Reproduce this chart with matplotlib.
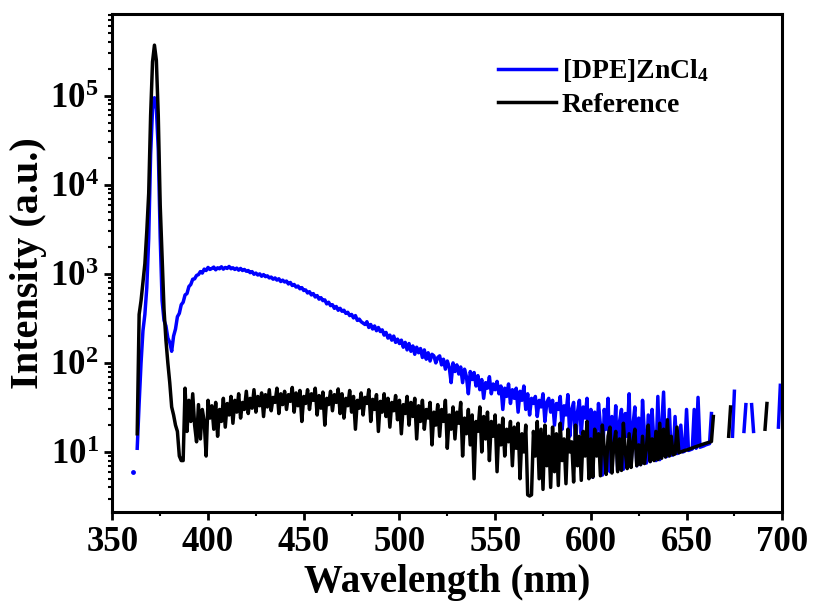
import numpy as np
import matplotlib
matplotlib.use('Agg')
import matplotlib.pyplot as plt
from matplotlib.ticker import FixedLocator, FuncFormatter, LogLocator, MultipleLocator

nan = np.nan

# wavelength grid, 1 nm steps
wavelength = np.arange(360, 701)

# [DPE]ZnCl4 emission (a.u.), nan = value not shown on the log axis
dpe = [
    nan, 6, nan, 11, 35, 100, 230, 350, 700, 2500,
    22000, 70000, 95000, 72000, 25000, 2600, 500, 300, 260, 190,
    170, 135, 200, 240, 330, 360, 450, 480, 580, 600,
    720, 760, 870, 880, 960, 980, 1060, 1020, 1130, 1090,
    1180, 1120, 1150, 1190, 1110, 1170, 1140, 1200, 1130, 1180,
    1150, 1210, 1140, 1170, 1120, 1160, 1100, 1150, 1090, 1120,
    1070, 1090, 1030, 1060, 990, 1020, 970, 1000, 940, 980,
    930, 950, 900, 920, 870, 900, 850, 880, 820, 850,
    810, 830, 770, 800, 740, 760, 710, 730, 680, 700,
    650, 660, 610, 630, 580, 600, 550, 570, 520, 540,
    500, 510, 460, 480, 440, 450, 410, 430, 390, 410,
    380, 390, 360, 370, 340, 350, 320, 340, 300, 310,
    290, 280, 270, 290, 250, 270, 240, 260, 230, 250,
    225, 235, 205, 220, 190, 205, 180, 200, 170, 185,
    165, 180, 150, 170, 140, 165, 135, 155, 125, 150,
    130, 145, 115, 140, 110, 130, 105, 125, 120, 100,
    115, 120, 95, 110, 85, 105, 90, 60, 100, 80,
    95, 75, 90, 60, 85, 70, 45, 80, 65, 78,
    55, 72, 50, 65, 40, 60, 52, 70, 45, 58,
    50, 62, 45, 55, 30, 52, 42, 58, 35, 50,
    40, 52, 28, 48, 38, 55, 30, 45, 26, 40,
    35, 42, 25, 38, 32, 45, 22, 36, 40, 28,
    38, 20, 35, 30, 42, 18, 33, 26, 44, 15,
    30, 36, 12, 28, 38, 16, 32, 24, 40, 10,
    30, 5.2, 28, 14, 35, 20, 5.5, 30, 18, 40,
    6, 25, 12, 33, 6.2, 22, 30, 6.4, 27, 15,
    45, 6.8, 20, 32, 7, 24, 7.2, 38, 16, 7.5,
    26, 7.8, 30, 12, 8, 42, 8.2, 20, 47, 8.8,
    9, 30, 9.2, 9.3, 25, 9.6, 9.8, 20, 10, 10.2,
    30, 10.4, 10.6, 10.8, 30, 11, 41, 11.3, 11.5, 11.7,
    12, 12.2, 12.4, 27, nan, nan, nan, nan, nan, nan,
    nan, nan, nan, nan, 15, 48, nan, nan, nan, nan,
    17, 34, nan, nan, 34, 17, nan, nan, nan, nan,
    nan, nan, nan, nan, nan, nan, nan, nan, 19, 56,
    nan,
]

# reference (excitation light) spectrum
reference = [
    nan, nan, nan, 16, 350, 500, 800, 1300, 3000, 8000,
    60000, 240000, 370000, 250000, 60000, 6000, 1500, 400, 180, 100,
    60, 32, 26, 20, 17, 9, 8, 8, 52, 17,
    38, 22, 45, 20, 13, 34, 14, 30, 22, 9,
    38, 24, 33, 18, 36, 15, 30, 22, 40, 19,
    35, 26, 42, 21, 38, 28, 45, 24, 36, 30,
    48, 27, 40, 31, 50, 28, 42, 33, 46, 25,
    44, 32, 50, 29, 41, 36, 52, 27, 45, 34,
    48, 30, 44, 37, 53, 28, 46, 33, 49, 22,
    42, 35, 50, 30, 45, 38, 52, 26, 43, 31,
    47, 20, 40, 34, 48, 29, 44, 36, 51, 27,
    45, 24, 40, 33, 49, 28, 42, 18, 38, 31,
    46, 26, 41, 35, 50, 22, 39, 30, 44, 17,
    37, 28, 45, 25, 40, 19, 36, 29, 43, 23,
    38, 16, 34, 27, 42, 20, 36, 25, 40, 14,
    33, 22, 38, 18, 30, 24, 36, 12, 28, 20,
    34, 15, 30, 22, 38, 11, 26, 18, 32, 14,
    28, 21, 36, 9, 24, 16, 30, 12, 26, 5,
    22, 17, 32, 10, 25, 14, 28, 8, 22, 15,
    26, 6, 20, 12, 24, 9, 18, 13, 22, 7,
    19, 11, 21, 5, 16, 10, 20, 3.3, 3.2, 3.3,
    17, 9, 22, 5, 18, 3.8, 20, 7, 15, 4,
    19, 6, 16, 4.2, 21, 8, 14, 4.4, 18, 10,
    13, 4.6, 20, 7, 15, 4.8, 17, 9, 22, 5,
    14, 5.2, 18, 9, 16, 5.4, 20, 11, 5.6, 15,
    19, 5.8, 12, 17, 6, 14, 6.2, 21, 10, 6.5,
    16, 6.7, 13, 18, 7, 12, 7.2, 15, 7.4, 11,
    20, 7.8, 14, 8, 17, 8.2, 21, 8.5, 18, 8.8,
    23, 9, 15, 9.3, 9.5, 19, 9.8, 10, 10.2, 10.4,
    10.5, 10.7, 10.9, 11.1, 11.3, 11.5, 11.7, 11.9, 12.1, 12.3,
    12.5, 12.7, 12.9, 13.1, 25, nan, nan, nan, nan, nan,
    nan, nan, 15, 32, nan, nan, nan, nan, nan, nan,
    nan, nan, nan, nan, nan, nan, nan, nan, nan, nan,
    nan, 18, 35, nan, nan, nan, nan, nan, nan, nan,
    nan,
]

labels = ['[DPE]ZnCl$_4$', 'Reference']
colors = ['#0000ff', '#000000']

plt.rcParams['font.family'] = 'Liberation Serif'
plt.rcParams['font.weight'] = 'bold'
plt.rcParams['mathtext.fontset'] = 'custom'
plt.rcParams['mathtext.rm'] = 'Liberation Serif:bold'
plt.rcParams['mathtext.it'] = 'Liberation Serif:bold'
plt.rcParams['mathtext.bf'] = 'Liberation Serif:bold'


def isolated(ys):
	# points with no neighbour to connect to would vanish from a line plot
	ys = np.asarray(ys, dtype=float)
	prev = np.concatenate(([nan], ys[:-1]))
	nxt = np.concatenate((ys[1:], [nan]))
	return ~np.isnan(ys) & np.isnan(prev) & np.isnan(nxt)


fig = plt.figure(figsize=(8.14, 6.04), dpi=100)
ax = fig.add_axes([0.138, 0.1515, 0.823, 0.8255])

for ys, label, color in zip([dpe, reference], labels, colors):
	ys = np.asarray(ys, dtype=float)
	ax.plot(wavelength, ys, color=color, lw=2.5, label=label, solid_joinstyle='round')
	m = isolated(ys)
	ax.plot(wavelength[m], ys[m], 'o', color=color, ms=3.5, mew=0)

ax.set_yscale('log')
ax.set_xlim(350, 700)
ax.set_ylim(2.09, 8.3e5)

ax.xaxis.set_major_locator(MultipleLocator(50))
ax.xaxis.set_minor_locator(MultipleLocator(25))
ax.yaxis.set_major_locator(FixedLocator([1e1, 1e2, 1e3, 1e4, 1e5]))
ax.yaxis.set_minor_locator(LogLocator(base=10, subs=np.arange(2, 10), numticks=20))
ax.yaxis.set_major_formatter(FuncFormatter(lambda v, p: r'$10^{%d}$' % round(np.log10(v))))

ax.tick_params(which='major', direction='out', length=6, width=2, labelsize=25, pad=4)
ax.tick_params(which='minor', direction='out', length=3, width=1.5)
ax.tick_params(top=False, right=False)
for s in ax.spines.values():
	s.set_linewidth(2.2)

ax.set_xlabel('Wavelength (nm)', fontsize=28, fontweight='bold', labelpad=3)
ax.set_ylabel('Intensity (a.u.)', fontsize=29, fontweight='bold', labelpad=2)

leg = ax.legend(loc='upper left', bbox_to_anchor=(0.538, 0.963), frameon=False,
	fontsize=20, handlelength=2.1, handletextpad=0.2, labelspacing=0.3)
for line in leg.get_lines():
	line.set_linewidth(2.5)

fig.savefig('out.png', dpi=100)
